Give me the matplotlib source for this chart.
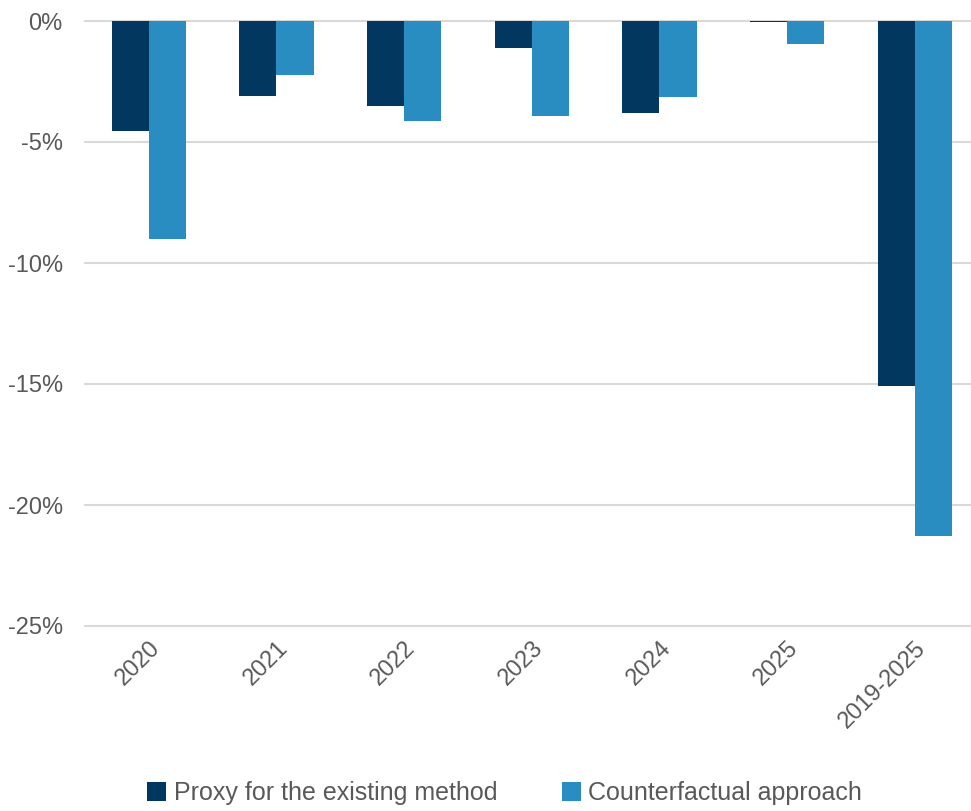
import numpy as np
import matplotlib
from matplotlib import pyplot as plt
from matplotlib.ticker import FuncFormatter

matplotlib.rcParams['font.family'] = ['Liberation Sans', 'DejaVu Sans']

categories = ['2020', '2021', '2022', '2023', '2024', '2025', '2019-2025']
proxy = [-4.55, -3.1, -3.5, -1.1, -3.8, -0.05, -15.1]
counterfactual = [-9.0, -2.23, -4.13, -3.92, -3.14, -0.95, -21.3]
yticks = [0, -5, -10, -15, -20, -25]

dark = '#02375f'
light = '#2a8dc2'
grey = '#595959'

fig = plt.figure(figsize=(9.71, 8.11), dpi=100)
ax = fig.add_axes([85/971, 1 - 626/811, 886/971, 605/811])

x = np.arange(len(categories))
w = 0.29
ax.bar(x - w/2, proxy, w, color=dark, label='Proxy for the existing method', zorder=3)
ax.bar(x + w/2, counterfactual, w, color=light, label='Counterfactual approach', zorder=3)

ax.set_xlim(-0.5, 6.44)
ax.set_ylim(-25, 0)
ax.set_yticks(yticks)
ax.yaxis.set_major_formatter(FuncFormatter(lambda v, p: f'{v:.0f}%'))
ax.grid(axis='y', color='#d9d9d9', linewidth=1.5, zorder=0)
ax.set_axisbelow(True)
for s in ax.spines.values():
    s.set_visible(False)
ax.tick_params(length=0, labelsize=17, labelcolor=grey)
ax.tick_params(axis='y', pad=16)
ax.set_xticks(x)
ax.set_xticklabels(categories, rotation=45, ha='right', rotation_mode='anchor')
ax.tick_params(axis='x', pad=8)
for gl in ax.get_ygridlines():
    gl.set_clip_on(False)

fig.legend(loc='center', bbox_to_anchor=(0.52, 0.022), ncol=2, frameon=False,
           labelcolor=grey, handlelength=0.75, handleheight=0.75,
           handletextpad=0.3, columnspacing=2.6,
           prop={'family': ['Liberation Sans Narrow', 'Liberation Sans'], 'size': 18})

fig.savefig('out.png', dpi=100)
